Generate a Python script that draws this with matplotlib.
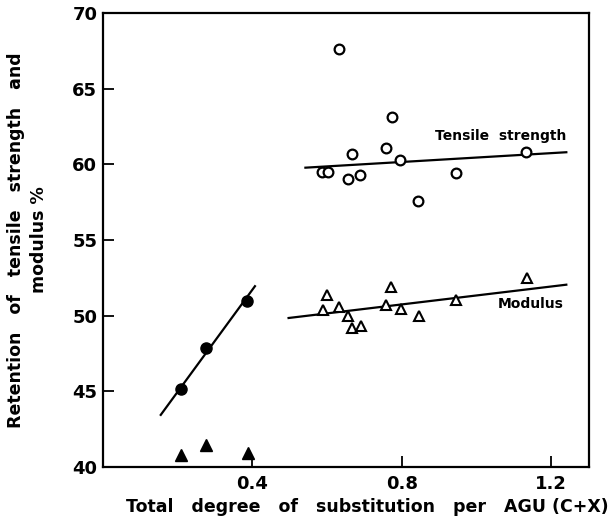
import matplotlib
matplotlib.use("Agg")
import matplotlib.pyplot as plt

# Tensile strength (open circles)
ts_x = [0.633, 0.773, 0.757, 0.666, 0.794, 1.131, 0.586, 0.602, 0.655, 0.688, 0.944, 0.844]
ts_y = [67.6, 63.1, 61.1, 60.7, 60.3, 60.8, 59.5, 59.5, 59.0, 59.3, 59.4, 57.6]
ts_line_x = [0.542, 1.240]
ts_line_y = [59.78, 60.80]

# Modulus (open triangles)
mod_x = [0.600, 0.588, 0.633, 0.655, 0.666, 0.690, 0.758, 0.772, 0.798, 0.845, 0.944, 1.136]
mod_y = [51.4, 50.4, 50.6, 49.95, 49.2, 49.3, 50.7, 51.9, 50.45, 50.0, 51.05, 52.5]
mod_line_x = [0.497, 1.240]
mod_line_y = [49.85, 52.05]

# low substitution series (filled symbols)
low_ts_x = [0.208, 0.276, 0.385]
low_ts_y = [45.15, 47.9, 50.95]
low_line_x = [0.155, 0.407]
low_line_y = [43.45, 51.95]
low_mod_x = [0.208, 0.276, 0.388]
low_mod_y = [40.8, 41.45, 40.9]

xticks = [0.4, 0.8, 1.2]
yticks = [40, 45, 50, 55, 60, 65, 70]

plt.rcParams["font.family"] = "DejaVu Sans"
plt.rcParams["font.weight"] = "bold"

fig = plt.figure(figsize=(6.12, 5.19), dpi=100)
ax = fig.add_axes([0.168, 0.100, 0.794, 0.875])

lw = 1.6
ax.plot(ts_line_x, ts_line_y, color="black", linewidth=lw)
ax.plot(mod_line_x, mod_line_y, color="black", linewidth=lw)
ax.plot(low_line_x, low_line_y, color="black", linewidth=lw)

ax.plot(ts_x, ts_y, "o", markersize=7, markerfacecolor="white",
        markeredgecolor="black", markeredgewidth=1.6)
ax.plot(mod_x, mod_y, "^", markersize=7, markerfacecolor="white",
        markeredgecolor="black", markeredgewidth=1.5)
ax.plot(low_ts_x, low_ts_y, "o", markersize=8, color="black")
ax.plot(low_mod_x, low_mod_y, "^", markersize=8, color="black", clip_on=False)

ax.text(1.24, 61.85, "Tensile  strength", ha="right", va="center",
        fontsize=10, fontweight="bold")
ax.text(1.232, 50.75, "Modulus", ha="right", va="center",
        fontsize=10, fontweight="bold")

ax.set_xlim(0, 1.3)
ax.set_ylim(40, 70)
ax.set_xticks(xticks)
ax.set_xticklabels(["0.4", "0.8", "1.2"])
ax.set_yticks(yticks)
ax.tick_params(direction="in", length=8, width=1.3, labelsize=13)
ax.tick_params(axis="x", pad=6)
ax.tick_params(axis="y", pad=4)
for lab in ax.get_xticklabels() + ax.get_yticklabels():
    lab.set_fontweight("bold")

for sp in ax.spines.values():
    sp.set_linewidth(1.6)

ax.set_xlabel("Total   degree   of   substitution   per   AGU (C+X)",
              fontsize=12.5, fontweight="bold")
ax.xaxis.set_label_coords(0.545, -0.068)
ax.set_ylabel("Retention   of   tensile   strength   and\nmodulus %",
              fontsize=12.5, fontweight="bold", linespacing=1.4)
ax.yaxis.set_label_coords(-0.112, 0.5)

fig.savefig("out.png", dpi=100)
